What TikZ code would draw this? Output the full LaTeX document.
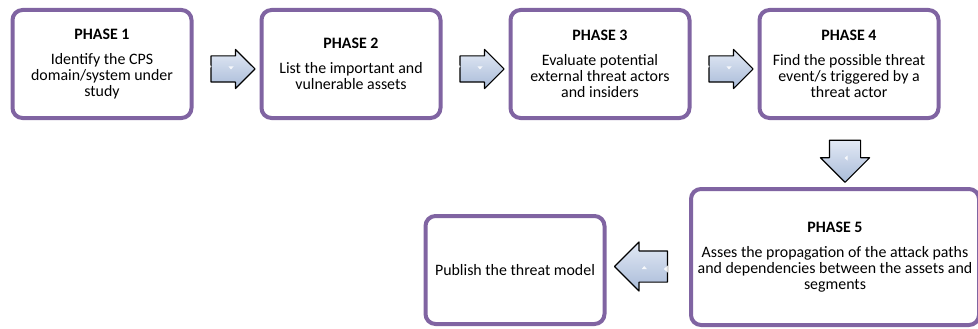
\documentclass[tikz,border=0pt]{standalone}
\usepackage{fontspec}
\setmainfont{Carlito}
\usetikzlibrary{shapes.arrows,calc}
\definecolor{phaseline}{HTML}{8064A2}
\definecolor{arrowtop}{HTML}{E2E9F5}
\definecolor{arrowbot}{HTML}{A9BBD8}
\tikzset{
    phase/.style={draw=phaseline, line width=4pt, rounded corners=10pt, fill=white,
        minimum width=179pt, minimum height=108pt, align=center, inner sep=3pt,
        font=\fontsize{15.9}{16}\selectfont},
    blockarrow/.style={single arrow, draw=black, line width=1.1pt, line join=round,
        top color=arrowtop, bottom color=arrowbot},
    flatarrow/.style={blockarrow, minimum height=44pt, inner xsep=0pt, inner ysep=12.5pt, single arrow head extend=6.5pt},
    bigarrow/.style={blockarrow, single arrow head extend=9pt},
    glare/.style={fill=white, opacity=.85}
}
% little white highlights on a block arrow
\newcommand{\glint}[2]{%
    \begin{scope}[shift={(#1.center)}, rotate=#2]
        \fill[glare] (-19,-6) -- (-15,-2.5) -- (-19,1) -- cycle;
        \fill[glare] (2,-2.5) -- (7,-2.5) -- (4.5,0.5) -- cycle;
    \end{scope}}
\begin{document}
\begin{tikzpicture}[x=1pt,y=-1pt]
        \clip (0,0) rectangle (978,329);

        \node[phase] (p1) at (102,64) {\textbf{PHASE 1}\\[9pt]Identify the CPS\\domain/system under\\study};
        \node[phase] (p2) at (351,64) {\textbf{PHASE 2}\\[9pt]List the important and\\vulnerable assets};
        \node[phase] (p3) at (600,64) {\textbf{PHASE 3}\\[9pt]Evaluate potential\\external threat actors\\and insiders};
        \node[phase] (p4) at (849,64) {\textbf{PHASE 4}\\[9pt]Find the possible threat\\event/s triggered by a\\threat actor};
        \node[phase, minimum width=288pt, minimum height=136pt] (p5) at (835,257) {\textbf{PHASE 5}\\[9pt]Asses the propagation of the attack paths\\and dependencies between the assets and\\segments};
        \node[phase] (p6) at (515,270) {Publish the threat model};

        % block arrows between the phases
        \node[flatarrow] (a12) at ($(p1.east)!0.5!(p2.west)+(0,5)$) {};
        \node[flatarrow] (a23) at ($(p2.east)!0.5!(p3.west)+(0,5)$) {};
        \node[flatarrow] (a34) at ($(p3.east)!0.5!(p4.west)+(0,5)$) {};
        \node[bigarrow, minimum height=42pt, inner xsep=15pt, inner ysep=0pt, shape border rotate=270] (a45) at ($(p4.south)!0.5!(p5.north)+(3,0)$) {};
        \node[bigarrow, minimum height=53pt, inner xsep=0pt, inner ysep=15pt, shape border rotate=180] (a56) at ($(p5.west)!0.5!(p6.east)+(1,3)$) {};

        \foreach \a in {a12,a23,a34} \glint{\a}{0};
        \glint{a45}{-90}
        \glint{a56}{180}

    \end{tikzpicture}
\end{document}
